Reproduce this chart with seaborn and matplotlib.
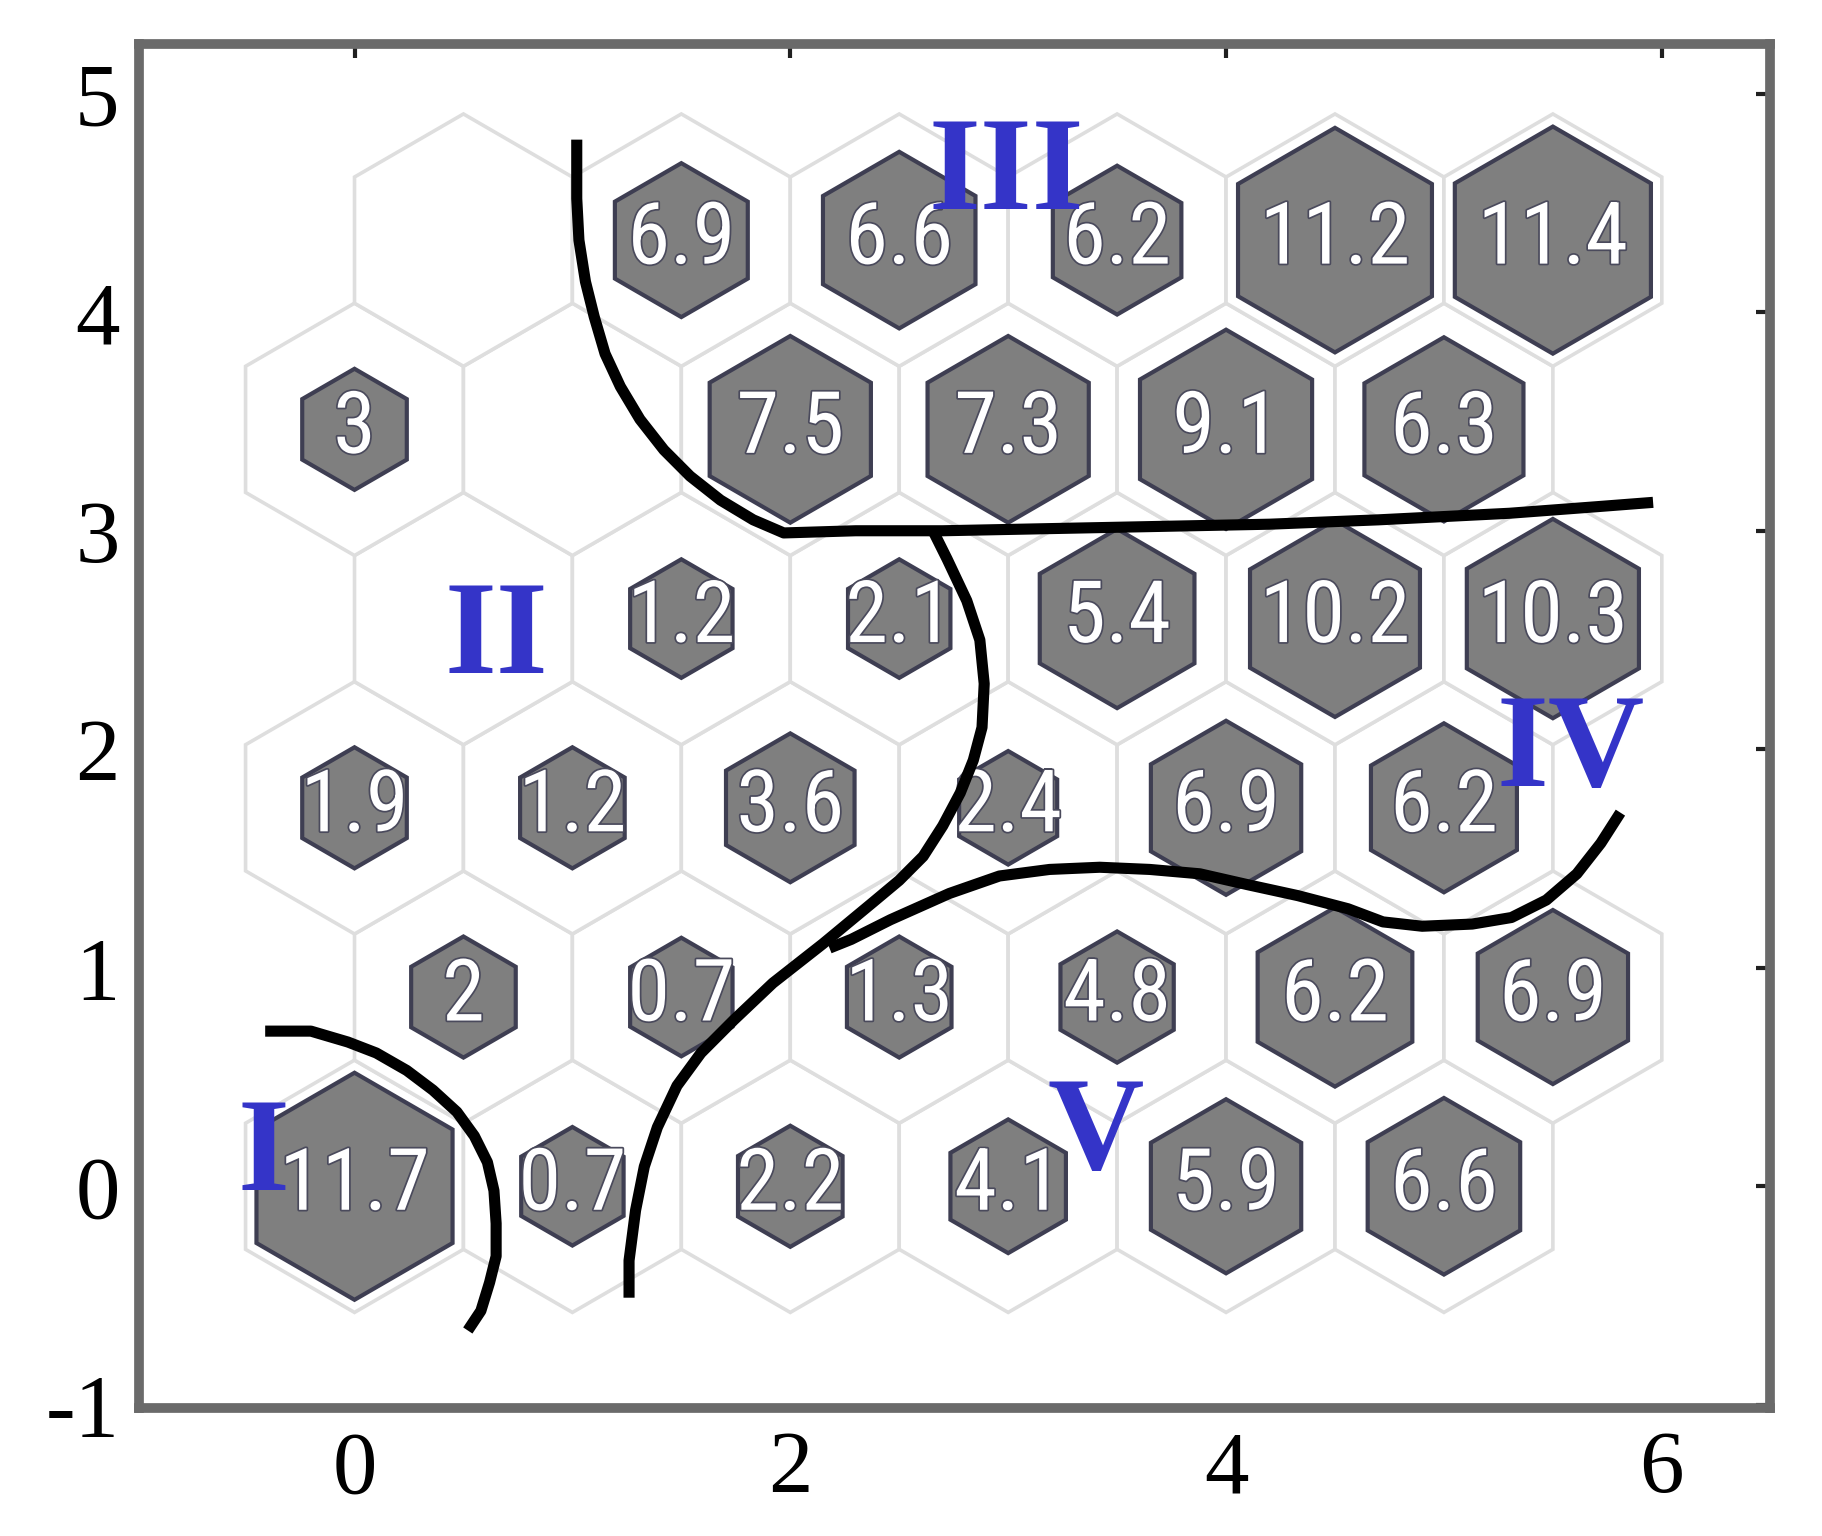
import numpy as np
import pandas as pd
import matplotlib
matplotlib.use("Agg")
import matplotlib.pyplot as plt
from matplotlib.patches import RegularPolygon
import matplotlib.patheffects as pe
import seaborn as sns

# ---- data (SOM 6x6 hexagonal map, rows bottom -> top) ----
neuron_values = [
    [11.7, 0.7, 2.2, 4.1, 5.9, 6.6],
    [2, 0.7, 1.3, 4.8, 6.2, 6.9],
    [1.9, 1.2, 3.6, 2.4, 6.9, 6.2],
    [np.nan, 1.2, 2.1, 5.4, 10.2, 10.3],
    [3, np.nan, 7.5, 7.3, 9.1, 6.3],
    [np.nan, 6.9, 6.6, 6.2, 11.2, 11.4],
]
# relative hit magnitude (hexagon fill share)
neuron_hits = [
    [0.90, 0.47, 0.48, 0.53, 0.69, 0.70],
    [0.48, 0.47, 0.48, 0.52, 0.71, 0.69],
    [0.48, 0.48, 0.59, 0.45, 0.69, 0.67],
    [0.00, 0.47, 0.47, 0.71, 0.78, 0.79],
    [0.48, 0.00, 0.74, 0.74, 0.79, 0.73],
    [0.00, 0.61, 0.70, 0.59, 0.89, 0.90],
]

# cluster boundary curves (data coordinates)
boundary_I_x = [-0.41, -0.20, -0.03, 0.10, 0.24, 0.36, 0.47, 0.55, 0.61, 0.64, 0.65, 0.65,
                0.62, 0.58, 0.52]
boundary_I_y = [0.71, 0.71, 0.66, 0.61, 0.53, 0.44, 0.34, 0.23, 0.11, -0.02, -0.17, -0.32,
                -0.44, -0.57, -0.66]

boundary_top_x = [1.02, 1.02, 1.03, 1.06, 1.10, 1.15, 1.22, 1.31, 1.42, 1.54, 1.68, 1.83,
                  1.97, 2.30, 2.70, 3.20, 3.70, 4.20, 4.70, 5.30, 5.70, 5.96]
boundary_top_y = [4.79, 4.52, 4.33, 4.14, 3.98, 3.81, 3.66, 3.51, 3.37, 3.25, 3.14, 3.05,
                  2.99, 3.00, 3.00, 3.01, 3.02, 3.03, 3.05, 3.08, 3.11, 3.13]

boundary_mid_x = [2.66, 2.72, 2.81, 2.87, 2.89, 2.88, 2.84, 2.78, 2.70, 2.61, 2.50, 2.38,
                  2.15, 1.92, 1.74, 1.59, 1.48, 1.39, 1.33, 1.29, 1.26, 1.26]
boundary_mid_y = [2.99, 2.87, 2.68, 2.50, 2.30, 2.10, 1.95, 1.80, 1.65, 1.51, 1.40, 1.30,
                  1.11, 0.93, 0.76, 0.61, 0.46, 0.27, 0.09, -0.11, -0.34, -0.51]

boundary_low_x = [2.18, 2.28, 2.46, 2.73, 2.96, 3.19, 3.42, 3.65, 3.88, 4.10, 4.33, 4.56,
                  4.72, 4.90, 5.13, 5.31, 5.47, 5.61, 5.72, 5.81]
boundary_low_y = [1.09, 1.13, 1.22, 1.34, 1.42, 1.45, 1.46, 1.45, 1.43, 1.38, 1.33, 1.27,
                  1.21, 1.19, 1.20, 1.23, 1.31, 1.43, 1.57, 1.71]

cluster_names = ["I", "II", "III", "IV", "V"]
cluster_x = [-0.42, 0.65, 2.99, 5.58, 3.40]
cluster_y = [0.13, 2.50, 4.62, 1.98, 0.23]

x_ticks = [0, 2, 4, 6]
y_ticks = [-1, 0, 1, 2, 3, 4, 5]

# ---- figure ----
sns.set_theme(style="white")
plt.rcParams["font.family"] = ["Liberation Serif", "DejaVu Serif"]
plt.rcParams["axes.unicode_minus"] = False

NUM_FONT = ["Roboto Condensed", "DejaVu Sans"]

fig = plt.figure(figsize=(18.22, 15.36), dpi=100)
ax = fig.add_axes([0.0763, 0.0833, 0.8951, 0.8881])
ax.set_xlim(-0.989, 6.496)
ax.set_ylim(-1.015, 5.228)

R = 1 / np.sqrt(3)
for r, (vals, hits) in enumerate(zip(neuron_values, neuron_hits)):
    for c, (v, h) in enumerate(zip(vals, hits)):
        cx = c + 0.5 * (r % 2)
        cy = r * np.sqrt(3) / 2
        ax.add_patch(RegularPolygon((cx, cy), 6, radius=R, orientation=0,
                                    facecolor="white", edgecolor="#dedede",
                                    linewidth=2.6, zorder=1))
for r, (vals, hits) in enumerate(zip(neuron_values, neuron_hits)):
    for c, (v, h) in enumerate(zip(vals, hits)):
        if np.isnan(v) or h <= 0:
            continue
        cx = c + 0.5 * (r % 2)
        cy = r * np.sqrt(3) / 2
        ax.add_patch(RegularPolygon((cx, cy), 6, radius=R * h, orientation=0,
                                    facecolor="#7f7f7f", edgecolor="#3e3e52",
                                    linewidth=3, zorder=2))
        ax.text(cx, cy, f"{v:g}", ha="center", va="center", color="white",
                fontsize=62, family=NUM_FONT, zorder=3,
                path_effects=[pe.withStroke(linewidth=2.5, foreground="#4a4a5c")])

curves = []
for name, xs, ys in [("I", boundary_I_x, boundary_I_y),
                     ("top", boundary_top_x, boundary_top_y),
                     ("mid", boundary_mid_x, boundary_mid_y),
                     ("low", boundary_low_x, boundary_low_y)]:
    curves.append(pd.DataFrame({"x": xs, "y": ys, "curve": name}))
curves = pd.concat(curves, ignore_index=True)
for name, sub in curves.groupby("curve", sort=False):
    sns.lineplot(data=sub, x="x", y="y", sort=False, estimator=None, ax=ax,
                 color="black", linewidth=8, zorder=4,
                 solid_capstyle="butt", solid_joinstyle="round")

for name, x, y in zip(cluster_names, cluster_x, cluster_y):
    ax.text(x, y, name, ha="center", va="center", color="#3434c8",
            fontsize=96, fontweight="bold", family="Liberation Serif", zorder=5)

ax.set_xlabel("")
ax.set_ylabel("")
ax.set_xticks(x_ticks)
ax.set_yticks(y_ticks)
ax.tick_params(direction="in", length=10, width=3, color="#202020",
               top=True, right=True, labelsize=64, labelcolor="black")
ax.tick_params(axis="x", pad=16)
ax.tick_params(axis="y", pad=14)
for s in ax.spines.values():
    s.set_visible(True)
    s.set_color("#6a6a6a")
    s.set_linewidth(7)
    s.set_zorder(6)

fig.savefig("out.png", dpi=100, facecolor="white")
